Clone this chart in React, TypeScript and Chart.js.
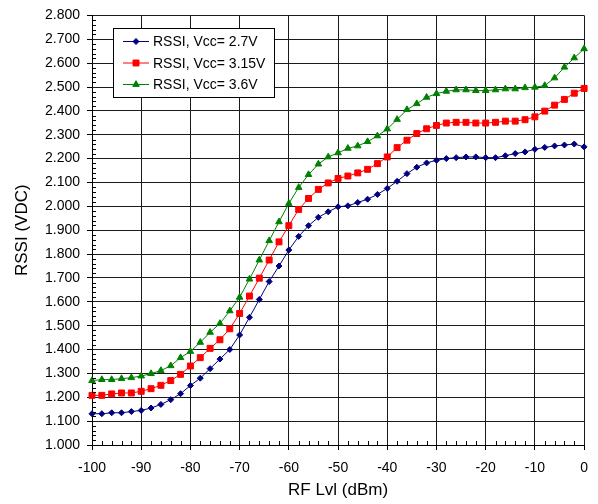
import React, { useEffect, useRef } from 'react';
import { Chart, registerables } from 'chart.js';

Chart.register(...registerables);

const FONT = "'Liberation Sans', Arial, Helvetica, sans-serif";

// RF level (dBm) categories
const rfLevels = [
  -100, -98, -96, -94, -92, -90, -88, -86, -84, -82,
  -80, -78, -76, -74, -72, -70, -68, -66, -64, -62,
  -60, -58, -56, -54, -52, -50, -48, -46, -44, -42,
  -40, -38, -36, -34, -32, -30, -28, -26, -24, -22,
  -20, -18, -16, -14, -12, -10, -8, -6, -4, -2, 0,
];

const rssiVcc27 = [
  1.131, 1.131, 1.135, 1.135, 1.140, 1.145, 1.155, 1.170, 1.190, 1.215,
  1.249, 1.280, 1.320, 1.360, 1.400, 1.461, 1.535, 1.610, 1.685, 1.750,
  1.817, 1.874, 1.919, 1.954, 1.977, 1.998, 2.002, 2.016, 2.030, 2.050,
  2.075, 2.105, 2.137, 2.164, 2.182, 2.193, 2.200, 2.204, 2.207, 2.207,
  2.204, 2.204, 2.212, 2.221, 2.228, 2.239, 2.247, 2.253, 2.257, 2.261, 2.249,
];

const rssiVcc315 = [
  1.208, 1.208, 1.214, 1.218, 1.218, 1.225, 1.236, 1.250, 1.270, 1.296,
  1.331, 1.366, 1.405, 1.441, 1.487, 1.551, 1.624, 1.699, 1.775, 1.851,
  1.919, 1.987, 2.033, 2.071, 2.098, 2.117, 2.127, 2.140, 2.155, 2.179,
  2.207, 2.246, 2.277, 2.305, 2.325, 2.339, 2.349, 2.352, 2.352, 2.349,
  2.349, 2.352, 2.357, 2.357, 2.363, 2.375, 2.399, 2.424, 2.448, 2.474, 2.494,
];

const rssiVcc36 = [
  1.270, 1.274, 1.274, 1.278, 1.282, 1.289, 1.299, 1.312, 1.332, 1.366,
  1.392, 1.430, 1.472, 1.509, 1.562, 1.619, 1.695, 1.775, 1.856, 1.935,
  2.012, 2.079, 2.133, 2.177, 2.207, 2.224, 2.243, 2.253, 2.271, 2.295,
  2.324, 2.364, 2.405, 2.430, 2.457, 2.472, 2.482, 2.488, 2.488, 2.485,
  2.485, 2.488, 2.492, 2.492, 2.497, 2.499, 2.506, 2.538, 2.583, 2.622, 2.660,
];

const seriesLabels = ['RSSI, Vcc= 2.7V', 'RSSI, Vcc= 3.15V', 'RSSI, Vcc= 3.6V'];

const xMin = -100;
const xMax = 0;
const xStep = 10;
const xMinorStep = 2;
const yMin = 1.0;
const yMax = 2.8;
const yStep = 0.1;
const yMinorStep = 0.02;

function drawMarker(ctx: CanvasRenderingContext2D, style: string, x: number, y: number, r: number, color: string) {
  ctx.save();
  ctx.fillStyle = color;
  ctx.strokeStyle = color;
  ctx.lineWidth = 1;
  ctx.beginPath();
  if (style === 'rectRot') {
    ctx.moveTo(x - r, y);
    ctx.lineTo(x, y - r);
    ctx.lineTo(x + r, y);
    ctx.lineTo(x, y + r);
    ctx.closePath();
  } else if (style === 'rect') {
    const s = Math.SQRT1_2 * r;
    ctx.rect(x - s, y - s, 2 * s, 2 * s);
  } else if (style === 'triangle') {
    const a = (2 * Math.PI) / 3;
    ctx.moveTo(x, y - r);
    ctx.lineTo(x + Math.sin(a) * r, y - Math.cos(a) * r);
    ctx.lineTo(x + Math.sin(2 * a) * r, y - Math.cos(2 * a) * r);
    ctx.closePath();
  }
  ctx.fill();
  ctx.stroke();
  ctx.restore();
}

const minorTicksPlugin = {
  id: 'minorTicks',
  afterDraw(chart: any) {
    const { ctx, chartArea } = chart;
    const xs = chart.scales.x;
    const ys = chart.scales.y;
    ctx.save();
    ctx.strokeStyle = '#000';
    ctx.lineWidth = 1;
    ctx.beginPath();
    const nx = Math.round((xMax - xMin) / xMinorStep);
    for (let i = 1; i < nx; i++) {
      const v = xMin + i * xMinorStep;
      if (Math.abs(v % xStep) < 1e-9) continue;
      const px = Math.round(xs.getPixelForValue(v)) + 0.5;
      ctx.moveTo(px, chartArea.bottom);
      ctx.lineTo(px, chartArea.bottom - 4);
    }
    const ny = Math.round((yMax - yMin) / yMinorStep);
    for (let i = 1; i < ny; i++) {
      if (i % Math.round(yStep / yMinorStep) === 0) continue;
      const v = yMin + i * yMinorStep;
      const py = Math.round(ys.getPixelForValue(v)) + 0.5;
      ctx.moveTo(chartArea.left, py);
      ctx.lineTo(chartArea.left + 4, py);
    }
    ctx.stroke();
    ctx.restore();
  },
};

const boxLegendPlugin = {
  id: 'boxLegend',
  afterDraw(chart: any) {
    const { ctx, chartArea } = chart;
    const left = Math.round(chartArea.left + 21);
    const top = Math.round(chartArea.top + 13);
    const w = 161;
    const h = 69;
    ctx.save();
    ctx.fillStyle = '#fff';
    ctx.fillRect(left, top, w, h);
    ctx.strokeStyle = '#000';
    ctx.lineWidth = 1;
    ctx.strokeRect(left + 0.5, top + 0.5, w, h);
    chart.data.datasets.forEach((ds: any, i: number) => {
      const cy = top + 13.5 + i * 21.5;
      ctx.strokeStyle = ds.borderColor;
      ctx.lineWidth = 1;
      ctx.beginPath();
      ctx.moveTo(left + 10, cy);
      ctx.lineTo(left + 36, cy);
      ctx.stroke();
      drawMarker(ctx, ds.pointStyle, left + 23, cy, ds.pointRadius, ds.pointBackgroundColor);
      ctx.fillStyle = '#000';
      ctx.font = `14px ${FONT}`;
      ctx.textBaseline = 'middle';
      ctx.textAlign = 'left';
      ctx.fillText(ds.label, left + 40, cy + 1);
    });
    ctx.restore();
  },
};

function toPoints(values: number[]) {
  return rfLevels.map((x, i) => ({ x, y: values[i] }));
}

export default function App() {
  const canvasRef = useRef<HTMLCanvasElement | null>(null);

  useEffect(() => {
    if (!canvasRef.current) return;
    Chart.defaults.font.family = FONT;
    Chart.defaults.color = '#000';
    const chart = new Chart(canvasRef.current, {
      type: 'line',
      data: {
        datasets: [
          {
            label: seriesLabels[0],
            data: toPoints(rssiVcc27),
            borderColor: '#000080',
            backgroundColor: '#000080',
            pointBackgroundColor: '#000080',
            pointBorderColor: '#000080',
            pointStyle: 'rectRot',
            pointRadius: 3.0,
            pointBorderWidth: 1,
            borderWidth: 1,
            clip: false,
          },
          {
            label: seriesLabels[1],
            data: toPoints(rssiVcc315),
            borderColor: '#ff0000',
            backgroundColor: '#ff0000',
            pointBackgroundColor: '#ff0000',
            pointBorderColor: '#ff0000',
            pointStyle: 'rect',
            pointRadius: 4.2,
            pointBorderWidth: 1,
            borderWidth: 1,
            clip: false,
          },
          {
            label: seriesLabels[2],
            data: toPoints(rssiVcc36),
            borderColor: '#008000',
            backgroundColor: '#008000',
            pointBackgroundColor: '#008000',
            pointBorderColor: '#008000',
            pointStyle: 'triangle',
            pointRadius: 3.8,
            pointBorderWidth: 1,
            borderWidth: 1,
            clip: false,
          },
        ],
      },
      options: {
        animation: false,
        responsive: false,
        maintainAspectRatio: false,
        events: [],
        layout: { padding: { top: 14, right: 10, bottom: 0, left: 0 } },
        plugins: {
          legend: { display: false },
          tooltip: { enabled: false },
        },
        scales: {
          x: {
            type: 'linear',
            min: xMin,
            max: xMax,
            afterFit: (scale: any) => {
              scale.height = 59;
            },
            ticks: {
              stepSize: xStep,
              padding: 10,
              color: '#000',
              font: { size: 14 },
              maxRotation: 0,
            },
            grid: {
              color: '#1a1a1a',
              lineWidth: 1,
              tickLength: 5,
              tickColor: '#000',
            },
            border: { color: '#000', width: 1 },
            title: {
              display: true,
              text: 'RF Lvl (dBm)',
              color: '#000',
              font: { size: 17 },
              padding: { top: 0, bottom: 3 },
            },
          },
          y: {
            type: 'linear',
            min: yMin,
            max: yMax,
            afterFit: (scale: any) => {
              scale.width = 92;
            },
            ticks: {
              stepSize: yStep,
              padding: 7,
              color: '#000',
              font: { size: 14 },
              callback: (v: any) => Number(v).toFixed(3),
            },
            grid: {
              color: '#1a1a1a',
              lineWidth: 1,
              tickLength: 5,
              tickColor: '#000',
            },
            border: { color: '#000', width: 1 },
            title: {
              display: true,
              text: 'RSSI (VDC)',
              color: '#000',
              font: { size: 17 },
              padding: { top: 12, bottom: 0 },
            },
          },
        },
      },
      plugins: [minorTicksPlugin, boxLegendPlugin],
    } as any);
    return () => chart.destroy();
  }, []);

  return (
    <div style={{ position: 'absolute', left: 0, top: 0, width: 598, height: 504, background: '#fff' }}>
      <canvas ref={canvasRef} width={598} height={504} style={{ width: 598, height: 504, display: 'block' }} />
    </div>
  );
}
